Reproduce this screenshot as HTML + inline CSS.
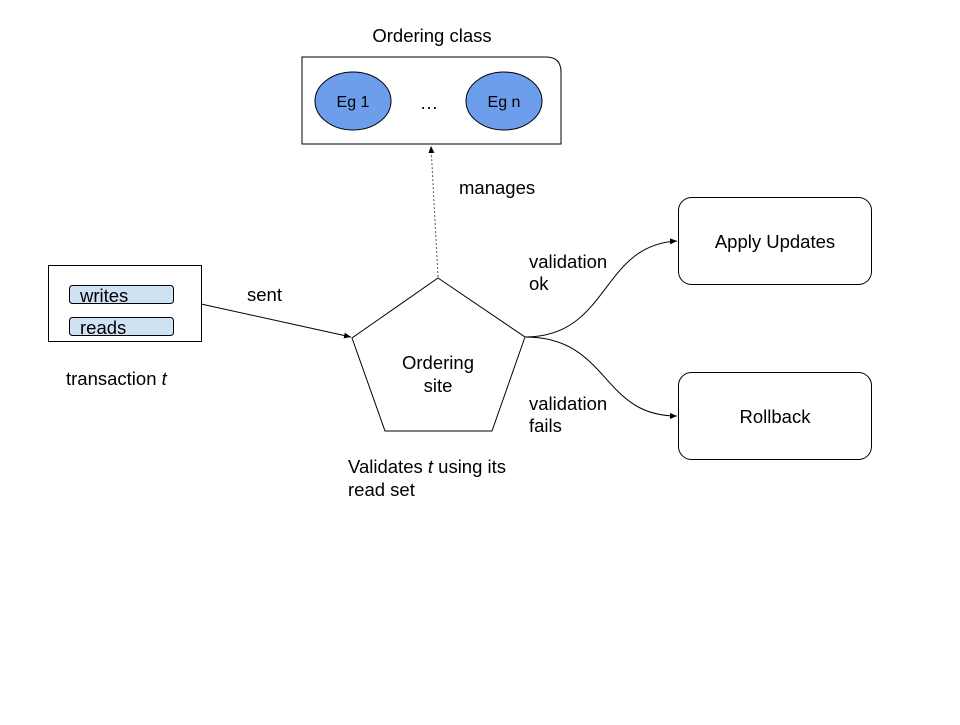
<!DOCTYPE html>
<html><head><meta charset="utf-8"><style>
html,body{margin:0;padding:0;background:#fff;}
svg text{font-family:"Liberation Sans",Arial,sans-serif;fill:#000;}
</style></head><body>
<svg width="960" height="720" viewBox="0 0 960 720" xmlns="http://www.w3.org/2000/svg">
<defs>
<marker id="a" markerWidth="8" markerHeight="8" refX="7" refY="4" orient="auto" markerUnits="userSpaceOnUse">
<path d="M0,1 L7,4 L0,7 Z" fill="#000"/></marker>
</defs>
<text x="432" y="42" font-size="18.5" text-anchor="middle">Ordering class</text>
<path d="M302,57 H546 Q561,57 561,72 V144 H302 Z" fill="#fff" stroke="#000" stroke-width="1"/>
<ellipse cx="353" cy="101" rx="38" ry="29" fill="#6d9eeb" stroke="#000" stroke-width="1"/>
<ellipse cx="504" cy="101" rx="38" ry="29" fill="#6d9eeb" stroke="#000" stroke-width="1"/>
<text x="353" y="107" font-size="16" text-anchor="middle">Eg 1</text>
<text x="504" y="107" font-size="16" text-anchor="middle">Eg n</text>
<text x="429" y="109" font-size="18.5" text-anchor="middle">…</text>
<line x1="438" y1="277" x2="431" y2="146" stroke="#555" stroke-width="1" stroke-dasharray="2,2" marker-end="url(#a)"/>
<text x="459" y="194" font-size="18.5">manages</text>
<rect x="48.5" y="265.5" width="153" height="76" fill="#fff" stroke="#000"/>
<rect x="69.5" y="285.5" width="104" height="18" rx="3" fill="#cfe2f3" stroke="#000"/>
<rect x="69.5" y="317.5" width="104" height="18" rx="3" fill="#cfe2f3" stroke="#000"/>
<text x="80" y="302" font-size="18.5">writes</text>
<text x="80" y="334" font-size="18.5">reads</text>
<text x="66" y="385" font-size="18.5">transaction <tspan font-style="italic">t</tspan></text>
<line x1="201" y1="304" x2="351" y2="337" stroke="#000" marker-end="url(#a)"/>
<text x="247" y="301" font-size="18.5">sent</text>
<polygon points="438,278 525,337 492,431 385,431 352,338" fill="#fff" stroke="#000"/>
<text x="438" y="369" font-size="18.5" text-anchor="middle">Ordering</text>
<text x="438" y="392" font-size="18.5" text-anchor="middle">site</text>
<text x="348" y="473" font-size="18.5">Validates <tspan font-style="italic">t</tspan> using its</text>
<text x="348" y="496" font-size="18.5">read set</text>
<path d="M525,337 C610,337 600,245 677,241" fill="none" stroke="#000" marker-end="url(#a)"/>
<path d="M525,337 C610,337 600,416 677,416" fill="none" stroke="#000" marker-end="url(#a)"/>
<text x="529" y="268" font-size="18.5">validation</text>
<text x="529" y="290" font-size="18.5">ok</text>
<text x="529" y="410" font-size="18.5">validation</text>
<text x="529" y="432" font-size="18.5">fails</text>
<rect x="678.5" y="197.5" width="193" height="87" rx="13" fill="#fff" stroke="#000"/>
<rect x="678.5" y="372.5" width="193" height="87" rx="13" fill="#fff" stroke="#000"/>
<text x="775" y="248" font-size="18.5" text-anchor="middle">Apply Updates</text>
<text x="775" y="423" font-size="18.5" text-anchor="middle">Rollback</text>
</svg>
</body></html>
